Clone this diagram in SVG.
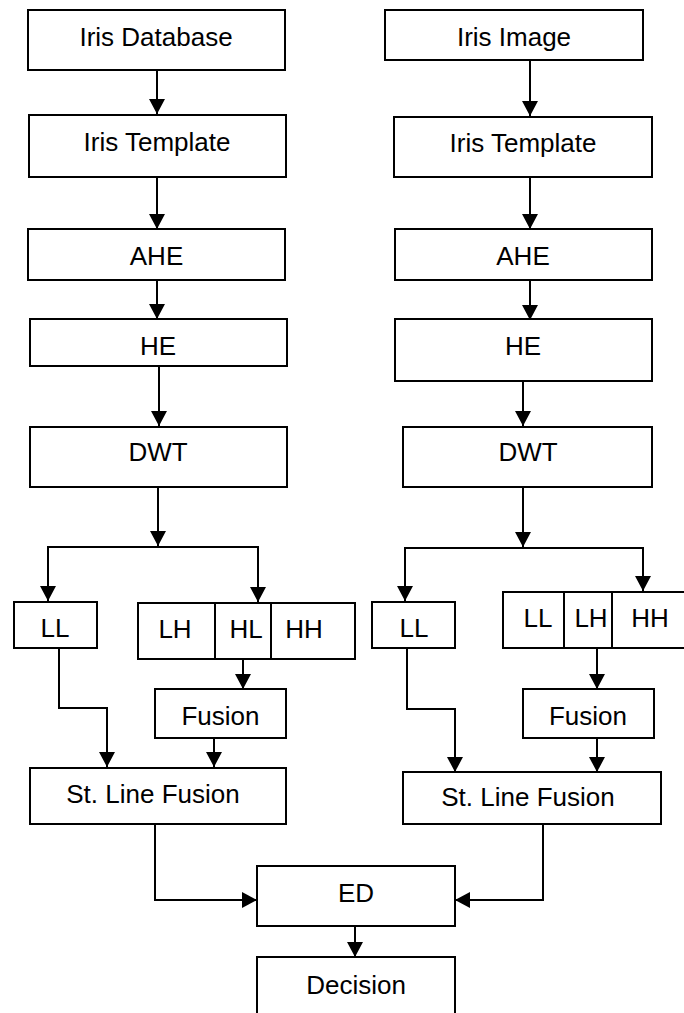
<svg xmlns="http://www.w3.org/2000/svg" width="684" height="1013" viewBox="0 0 684 1013">
<style>
rect{fill:#fff;stroke:#000;stroke-width:2}
.d{stroke:#000;stroke-width:2}
text{font-family:"Liberation Sans",Arial,sans-serif;font-size:26px;fill:#000;text-anchor:middle}
.c path{fill:none;stroke:#000;stroke-width:2;marker-end:url(#ah)}
</style>
<defs>
<marker id="ah" markerUnits="userSpaceOnUse" markerWidth="16" markerHeight="16" refX="15" refY="8" orient="auto">
<path d="M0,0 L15,8 L0,16 z" fill="#000"/>
</marker>
</defs>
<rect x="0" y="0" width="684" height="1013" style="fill:#fff;stroke:none"/>
<g id="l-db"><rect x="28" y="10" width="257" height="60"/><text x="156" y="46">Iris Database</text></g>
<g id="l-tpl"><rect x="29" y="115" width="257" height="62"/><text x="157" y="151">Iris Template</text></g>
<g id="l-ahe"><rect x="28" y="229" width="257" height="51"/><text x="156.5" y="265">AHE</text></g>
<g id="l-he"><rect x="30" y="319" width="257" height="47"/><text x="158" y="355">HE</text></g>
<g id="l-dwt"><rect x="30" y="427" width="257" height="60"/><text x="158" y="461">DWT</text></g>
<g id="l-ll"><rect x="14" y="602" width="83" height="46"/><text x="55" y="637">LL</text></g>
<g id="l-bands"><rect x="138" y="603" width="217" height="56"/><line class="d" x1="215" y1="603" x2="215" y2="659"/><line class="d" x1="271" y1="603" x2="271" y2="659"/><text x="175" y="638">LH</text><text x="246" y="638">HL</text><text x="304" y="638">HH</text></g>
<g id="l-fusion"><rect x="155" y="689" width="131" height="49"/><text x="220.5" y="725">Fusion</text></g>
<g id="l-slf"><rect x="30" y="768" width="256" height="56"/><text x="153" y="803">St. Line Fusion</text></g>

<g id="r-img"><rect x="385" y="10" width="258" height="50"/><text x="514" y="46">Iris Image</text></g>
<g id="r-tpl"><rect x="394" y="117" width="258" height="60"/><text x="523" y="152">Iris Template</text></g>
<g id="r-ahe"><rect x="395" y="229" width="257" height="51"/><text x="523" y="265">AHE</text></g>
<g id="r-he"><rect x="395" y="319" width="257" height="62"/><text x="523" y="355">HE</text></g>
<g id="r-dwt"><rect x="403" y="427" width="249" height="60"/><text x="528" y="461">DWT</text></g>
<g id="r-ll"><rect x="372" y="602" width="83" height="46"/><text x="414" y="637">LL</text></g>
<g id="r-bands"><rect x="503" y="592" width="190" height="56"/><line class="d" x1="564" y1="592" x2="564" y2="648"/><line class="d" x1="612" y1="592" x2="612" y2="648"/><text x="538" y="627">LL</text><text x="591" y="627">LH</text><text x="650" y="627">HH</text></g>
<g id="r-fusion"><rect x="523" y="689" width="131" height="49"/><text x="588" y="725">Fusion</text></g>
<g id="r-slf"><rect x="403" y="772" width="258" height="52"/><text x="528" y="806">St. Line Fusion</text></g>

<g id="ed"><rect x="257" y="866" width="198" height="60"/><text x="356" y="902">ED</text></g>
<g id="decision"><rect x="257" y="957" width="198" height="70"/><text x="356" y="994">Decision</text></g>

<g class="c" id="connectors">
<path d="M157,70 V114"/>
<path d="M157,177 V229"/>
<path d="M157,280 V319"/>
<path d="M159,366 V426"/>
<path d="M158,487 V546"/>
<path d="M158,547 H48 V601" style="marker-end:url(#ah)"/>
<path d="M158,547 H258 V602"/>
<path d="M243,659 V689"/>
<path d="M59,648 V708 H107 V767"/>
<path d="M214,738 V767"/>
<path d="M530,60 V116"/>
<path d="M530,177 V229"/>
<path d="M530,280 V320"/>
<path d="M523,381 V426"/>
<path d="M523,487 V547"/>
<path d="M523,548 H405 V601"/>
<path d="M523,548 H643 V591"/>
<path d="M597,648 V689"/>
<path d="M407,648 V709 H455 V772"/>
<path d="M597,738 V772"/>
<path d="M155,824 V900 H257"/>
<path d="M543,824 V900 H455"/>
<path d="M355,926 V957"/>
</g>
</svg>
